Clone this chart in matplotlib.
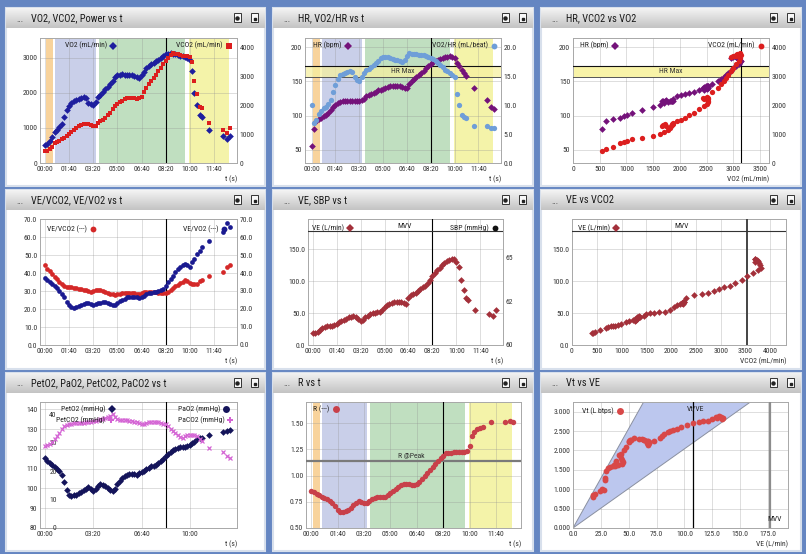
import numpy as np
import matplotlib.pyplot as plt
from matplotlib import font_manager
from matplotlib.patches import Rectangle
from matplotlib.colors import LinearSegmentedColormap
from matplotlib.ticker import FormatStrFormatter

# narrow font if there is one
have = {f.name for f in font_manager.fontManager.ttflist}
base = 'DejaVu Sans'
for cand in ['Liberation Sans Narrow', 'DejaVu Sans Condensed', 'Roboto Condensed', 'Liberation Sans']:
    if cand in have:
        base = cand
        break
plt.rcParams['font.family'] = [base, 'DejaVu Sans']

# ---- data (time in s) ----
t = list(range(0, 601, 10)) + [610, 618, 630, 640, 650, 680, 736, 752, 764]

vo2 = [520, 540, 620, 750, 880, 950, 1020, 1100, 1300, 1500,
       1620, 1700, 1780, 1810, 1830, 1850, 1880, 1850, 1720, 1680,
       1670, 1750, 1880, 1950, 2030, 2100, 2170, 2260, 2350, 2460,
       2500, 2520, 2530, 2520, 2520, 2510, 2500, 2490, 2450, 2430,
       2500, 2600, 2720, 2770, 2820, 2860, 2900, 2950, 3000, 3050,
       3100, 3120, 3140, 3120, 3100, 3080, 3060, 3050, 3040, 3000,
       2950,
       2620, 2000, 1650, 1380, 1300, 950, 780, 680, 760]

vco2 = [400, 420, 470, 560, 680, 730, 780, 820, 870, 930,
        990, 1080, 1150, 1220, 1270, 1310, 1350, 1360, 1340, 1320,
        1280, 1290, 1380, 1450, 1500, 1570, 1650, 1750, 1870, 1980,
        2050, 2110, 2170, 2220, 2240, 2250, 2250, 2240, 2220, 2240,
        2300, 2450, 2620, 2740, 2860, 2960, 3070, 3180, 3290, 3420,
        3530, 3650, 3760, 3820, 3800, 3780, 3760, 3730, 3700, 3700,
        3690,
        3520, 2830, 2400, 1950, 1900, 1390, 1160, 1040, 1210]

hr = [55, 80, 92, 95, 97, 99, 101, 104, 108, 112,
      116, 118, 120, 121, 121, 121, 122, 121, 121, 121,
      122, 123, 125, 128, 130, 131, 133, 135, 137, 138,
      139, 140, 142, 143, 143, 144, 144, 143, 142, 141,
      140, 146, 150, 153, 156, 159, 162, 166, 169, 172,
      175, 178, 180, 182, 183, 185, 186, 186, 187, 186,
      185,
      177, 172, 167, 163, 158, 140, 123, 112, 110]

vo2_hr = [10.0, 7.0, 7.5, 8.5, 9.0, 9.5, 9.8, 10.2, 11.0, 12.3,
          13.5, 14.5, 15.2, 15.4, 15.6, 15.8, 15.9, 15.8, 14.9, 14.4,
          14.2, 14.9, 15.6, 16.1, 16.4, 16.7, 17.0, 17.3, 17.7, 18.2,
          18.4, 18.4, 18.4, 18.3, 18.1, 17.9, 17.8, 17.7, 17.6, 17.9,
          18.5, 19.1, 19.0, 19.0, 18.9, 18.8, 18.7, 18.7, 18.5, 18.4,
          18.2, 18.0, 17.7, 17.3, 17.0, 16.6, 16.2, 16.0, 15.6, 15.3,
          15.0,
          11.9, 10.0, 8.3, 8.0, 7.8, 6.5, 6.4, 6.1, 6.0]

ve_vco2 = [44.5, 42.0, 41.0, 39.5, 38.0, 36.5, 35.0, 34.0, 33.0, 32.2,
           32.0, 32.0, 31.8, 31.5, 31.2, 31.0, 30.8, 30.3, 29.8, 29.6,
           30.2, 30.6, 30.8, 30.4, 30.0, 29.5, 29.0, 28.6, 28.2, 27.8,
           28.2, 28.6, 28.8, 28.9, 28.9, 28.9, 28.9, 28.8, 28.6, 28.5,
           28.8, 29.3, 29.5, 29.5, 29.5, 29.4, 29.2, 29.0, 28.9, 28.9,
           29.0, 29.6, 30.6, 31.6, 32.6, 33.5, 34.4, 35.2, 35.9, 35.5,
           34.5,
           34.0, 34.0, 34.0, 35.5, 36.3, 38.1, 40.5, 43.5, 44.6]

ve_vo2 = [37.2, 36.0, 35.0, 34.0, 33.0, 31.5, 30.0, 28.5, 26.5, 24.0,
          22.0, 21.0, 20.8, 21.2, 21.8, 22.4, 22.8, 23.2, 23.4, 22.8,
          22.2, 22.6, 23.3, 23.6, 23.9, 23.8, 23.4, 23.0, 22.4, 22.2,
          23.3, 24.2, 25.0, 25.8, 26.4, 26.7, 26.7, 26.7, 26.5, 26.3,
          26.5, 27.3, 28.2, 28.7, 29.1, 29.4, 29.6, 30.0, 30.3, 31.3,
          33.0, 34.8, 36.5, 38.5, 40.3, 42.0, 43.5, 44.5, 45.1, 44.3,
          43.6,
          46.0, 48.0, 50.5, 52.0, 54.5, 58.0, 62.6, 67.6, 65.4]

ve = [18, 18, 20, 24, 26, 28, 29, 29, 30, 31,
      33, 36, 37, 39, 41, 43, 44, 45, 44, 40,
      38, 39, 43, 46, 48, 50, 50, 51, 52, 55,
      59, 62, 64, 66, 67, 68, 68, 67, 66, 64,
      73, 78, 80, 82, 85, 87, 90, 93, 97, 102,
      108, 113, 117, 121, 125, 128, 131, 133, 135, 134,
      129,
      122, 102, 86, 74, 70, 54, 49, 46, 55]

peto2 = [115.5, 114.0, 112.8, 111.8, 111.0, 110.0, 109.0, 107.0, 103.5, 99.0,
         96.8, 96.4, 96.6, 96.9, 97.5, 98.1, 99.0, 99.8, 100.8, 99.5,
         98.6, 99.8, 101.0, 102.0, 101.8, 101.3, 100.3, 99.4, 98.6, 99.8,
         102.0, 104.0, 105.3, 106.2, 107.0, 107.3, 107.5, 107.2, 107.0, 107.6,
         108.2, 109.0, 109.6, 110.5, 111.3, 111.5, 111.7, 112.8, 113.8, 115.0,
         116.3, 117.5, 118.3, 119.2, 119.7, 120.3, 120.9, 120.9, 120.9, 121.5,
         122.2,
         122.8, 123.4, 124.8, 125.6, 125.6, 126.8, 128.5, 129.0, 129.5]

petco2 = [28.8, 29.2, 29.6, 30.4, 31.4, 32.4, 33.5, 34.8, 35.8, 36.4,
          36.7, 36.8, 37.0, 37.1, 37.1, 37.1, 37.1, 37.2, 37.4, 37.5,
          37.6, 37.8, 38.1, 38.3, 38.5, 38.8, 39.2, 39.6, 40.0, 39.2,
          38.5, 38.2, 38.2, 38.1, 38.0, 37.8, 37.6, 37.5, 37.3, 37.0,
          36.6, 36.5, 36.9, 37.2, 37.5, 37.5, 37.4, 37.2, 37.0, 36.8,
          36.5, 35.8, 35.0, 34.3, 33.5, 32.8, 32.0, 31.8, 32.5, 32.9,
          32.9,
          32.9, 32.6, 32.4, 31.2, 30.5, 28.2, 26.7, 25.5, 24.7]

rer = [0.85, 0.84, 0.82, 0.81, 0.80, 0.79, 0.78, 0.76, 0.74, 0.71,
       0.67, 0.65, 0.65, 0.66, 0.675, 0.695, 0.72, 0.735, 0.755, 0.75,
       0.74, 0.735, 0.755, 0.775, 0.79, 0.795, 0.795, 0.795, 0.795, 0.81,
       0.83, 0.85, 0.87, 0.89, 0.905, 0.915, 0.915, 0.915, 0.91, 0.906,
       0.915, 0.94, 0.97, 0.995, 1.02, 1.053, 1.085, 1.11, 1.14, 1.165,
       1.187, 1.21, 1.215, 1.219, 1.222, 1.225, 1.225, 1.225, 1.225, 1.235,
       1.28,
       1.38, 1.41, 1.44, 1.455, 1.465, 1.505, 1.51, 1.515, 1.51]

# tidal volume, exercise part only (first 61 samples)
vt = [0.80, 0.85, 0.88, 0.96, 1.00, 0.98, 1.25, 1.30, 1.48, 1.55,
      1.58, 1.60, 1.62, 1.70, 1.88, 1.80, 1.75, 1.70, 1.65, 1.62,
      1.60, 1.72, 1.90, 2.00, 2.10, 2.22, 2.25, 2.26, 2.28, 2.32,
      2.30, 2.30, 2.26, 2.20, 2.15, 2.18, 2.22, 2.25, 2.24, 2.28,
      2.25, 2.33, 2.37, 2.42, 2.47, 2.50, 2.52, 2.56, 2.60, 2.66,
      2.71, 2.73, 2.75, 2.76, 2.82, 2.87, 2.89, 2.86, 2.84, 2.82,
      2.85]

tpos = [0, 100, 200, 300, 400, 500, 600, 700]
tlab = ['00:00', '01:40', '03:20', '05:00', '06:40', '08:20', '10:00', '11:40']
phases = [(6, 33), (42, 211), (223, 581), (596, 760)]
phase_cols = ['#f8d39c', '#c9cfe9', '#c0dfc0', '#f4f3a9']
t_mark = 500
hr_max = (156.5, 173)
mvv = 178
r_peak = 1.14

FS = 5.5
W, H = 806, 554
fig = plt.figure(figsize=(W / 100, H / 100), dpi=100)
fig.patch.set_facecolor('#6586c2')


def rect(x0, y0, x1, y1):
    return [x0 / W, 1 - y1 / H, (x1 - x0) / W, (y1 - y0) / H]


grad_cm = LinearSegmentedColormap.from_list('tb', ['#f3f3f3', '#c4c4c4'])
cols = [(6, 265), (273, 533), (541, 801)]
rows = [(8, 186), (190, 369), (373, 551)]
titles = ['VO2, VCO2, Power vs t', 'HR, VO2/HR vs t', 'HR, VCO2 vs VO2',
          'VE/VCO2, VE/VO2 vs t', 'VE, SBP vs t', 'VE vs VCO2',
          'PetO2, PaO2, PetCO2, PaCO2 vs t', 'R vs t', 'Vt vs VE']
k = 0
for (y0, y1) in rows:
    for (x0, x1) in cols:
        l, b, w, h = rect(x0, y0, x1, y1)
        fig.add_artist(Rectangle((l, b), w, h, transform=fig.transFigure,
                                 fc='white', ec='#d8e0ec', lw=1.5, zorder=-5))
        tb = fig.add_axes(rect(x0, y0, x1, y0 + 20))
        tb.imshow(np.linspace(0, 1, 20).reshape(-1, 1), aspect='auto', cmap=grad_cm,
                  extent=(0, 1, 0, 1))
        tb.set_xlim(0, 1)
        tb.set_ylim(0, 1)
        tb.axis('off')
        tb.text(0.04, 0.45, '...', fontsize=6.5, color='#333', va='center')
        tb.text(0.095, 0.5, titles[k], fontsize=7.5, color='#1a1a1a', va='center')
        for cx in [0.893, 0.96]:
            tb.add_patch(Rectangle((cx - 0.014, 0.28), 0.028, 0.45, fc='#f8f8f8',
                                   ec='#333', lw=0.7))
        tb.plot(0.893, 0.52, 'o', ms=2.2, color='#222')
        tb.plot(0.963, 0.45, 's', ms=1.8, color='#222')
        k += 1


def make_ax(x0, y0, x1, y1):
    ax = fig.add_axes(rect(x0, y0, x1, y1))
    ax.set_facecolor('white')
    for s in ax.spines.values():
        s.set_color('#a8a8a8')
        s.set_linewidth(0.7)
    ax.tick_params(length=0, labelsize=FS, colors='#333333', pad=2)
    ax.grid(True, color='#909090', alpha=0.35, lw=0.6)
    ax.set_axisbelow(True)
    return ax


def twin(ax):
    tw = ax.twinx()
    for s in tw.spines.values():
        s.set_visible(False)
    tw.tick_params(length=0, labelsize=FS, colors='#333333', pad=2)
    return tw


def time_axis(ax, pos=tpos, lab=tlab, lo=-20):
    ax.set_xlim(lo, 795)
    ax.set_xticks(pos)
    ax.set_xticklabels(lab)
    ax.text(1.0, -0.1, 't (s)', transform=ax.transAxes, ha='right', va='top',
            fontsize=FS, color='#333')


def bands(ax):
    for (a, b), c in zip(phases, phase_cols):
        ax.axvspan(a, b, color=c, lw=0, zorder=0.2)


def leg(ax, mx, y, label, marker, color, ms=4.2):
    ax.text(mx - 0.03, y, label, transform=ax.transAxes, ha='right', va='center',
            fontsize=FS, color='#222', zorder=10)
    ax.plot([mx], [y], marker=marker, color=color, ms=ms, mew=0,
            transform=ax.transAxes, clip_on=False, zorder=10)


C_VO2 = '#1e1e9e'
C_VCO2 = '#dc1e1e'
C_HR = '#74127a'
C_O2P = '#6f9ed8'
C_VE = '#a3303a'
MS = 3.4

# 1 VO2, VCO2 vs t
ax = make_ax(40, 38, 237, 163)
bands(ax)
ax.axvline(t_mark, color='black', lw=0.8, zorder=3)
ax.set_ylim(0, 3570)
ax.set_yticks([0, 1000, 2000, 3000])
ax.plot(t, vo2, 'D', color=C_VO2, ms=MS, mew=0, zorder=4)
time_axis(ax)
tw = twin(ax)
tw.set_ylim(0, 4340)
tw.set_yticks([0, 1000, 2000, 3000, 4000])
tw.plot(t, vco2, 's', color=C_VCO2, ms=3.1, mew=0)
leg(tw, 0.373, 0.94, 'VO2 (mL/min)', 'D', C_VO2)
leg(tw, 0.958, 0.94, 'VCO2 (mL/min)', 's', C_VCO2)

# 2 HR, VO2/HR vs t
ax = make_ax(305, 38, 501, 163)
bands(ax)
ax.axhspan(*hr_max, color='#f6f0a0', alpha=0.75, lw=0, zorder=0.6)
ax.axhline(hr_max[1], color='#111', lw=0.8, zorder=3)
ax.axhline(hr_max[0], color='#555', lw=0.7, zorder=3)
ax.text(0.5, sum(hr_max) / 2, 'HR Max', transform=ax.get_yaxis_transform(), ha='center',
        va='center', fontsize=FS, color='#333', zorder=3)
ax.axvline(t_mark, color='black', lw=0.8, zorder=3)
ax.set_ylim(30.5, 213.7)
ax.set_yticks([50, 100, 150, 200])
ax.plot(t, hr, 'D', color=C_HR, ms=MS, mew=0, zorder=4)
time_axis(ax, lo=-28)
tw = twin(ax)
tw.set_ylim(0, 21.7)
tw.set_yticks([0, 5, 10, 15, 20])
tw.yaxis.set_major_formatter(FormatStrFormatter('%.1f'))
tw.plot(t, vo2_hr, 'o', color=C_O2P, ms=3.8, mew=0)
leg(tw, 0.217, 0.94, 'HR (bpm)', 'D', C_HR)
leg(tw, 0.966, 0.94, 'VO2/HR (mL/beat)', 'o', C_O2P)

# 3 HR, VCO2 vs VO2
ax = make_ax(573, 38, 769, 163)
ax.axhspan(*hr_max, color='#f8f3a8', lw=0, zorder=0.6)
ax.axhline(hr_max[1], color='#111', lw=0.8, zorder=3)
ax.axhline(hr_max[0], color='#555', lw=0.7, zorder=3)
ax.text(0.5, sum(hr_max) / 2, 'HR Max', transform=ax.get_yaxis_transform(), ha='center',
        va='center', fontsize=FS, color='#333', zorder=3)
ax.axvline(3150, color='black', lw=0.8, zorder=3)
ax.set_xlim(0, 3670)
ax.set_xticks(range(0, 3501, 500))
ax.set_ylim(30.5, 213.7)
ax.set_yticks([50, 100, 150, 200])
ax.plot(vo2[1:61], hr[1:61], 'D', color=C_HR, ms=MS, mew=0, zorder=4)
ax.text(1.0, -0.1, 'VO2 (mL/min)', transform=ax.transAxes, ha='right', va='top',
        fontsize=FS, color='#333')
tw = twin(ax)
tw.set_ylim(0, 4340)
tw.set_yticks([0, 1000, 2000, 3000, 4000])
tw.plot(vo2[1:61], vco2[1:61], 'o', color=C_VCO2, ms=3.8, mew=0)
leg(tw, 0.212, 0.94, 'HR (bpm)', 'D', C_HR)
leg(tw, 0.958, 0.94, 'VCO2 (mL/min)', 'o', C_VCO2)

# 4 VE/VCO2, VE/VO2 vs t
ax = make_ax(40, 219, 237, 345)
ax.axvline(t_mark, color='black', lw=0.8, zorder=3)
ax.set_ylim(0, 70)
ax.set_yticks(range(0, 71, 10))
ax.yaxis.set_major_formatter(FormatStrFormatter('%.1f'))
ax.plot(t, ve_vco2, 'o', color='#d42828', ms=3.4, mew=0, zorder=4)
time_axis(ax)
tw = twin(ax)
tw.set_ylim(0, 70)
tw.set_yticks(range(0, 71, 10))
tw.yaxis.set_major_formatter(FormatStrFormatter('%.1f'))
tw.plot(t, ve_vo2, 'o', color='#1a1a90', ms=3.4, mew=0)
leg(tw, 0.268, 0.92, 'VE/VCO2 (---)', 'o', '#d42828')
leg(tw, 0.936, 0.92, 'VE/VO2 (---)', 'o', '#1a1a90')

# 5 VE, SBP vs t
ax = make_ax(308, 219, 503, 345)
ax.axvline(t_mark, color='black', lw=0.8, zorder=3)
ax.axhline(mvv, color='#333', lw=0.8, zorder=3)
ax.text(0.496, mvv + 3, 'MVV', transform=ax.get_yaxis_transform(), ha='center',
        va='bottom', fontsize=FS, color='#222')
ax.set_ylim(0, 197)
ax.set_yticks([0, 50, 100, 150])
ax.yaxis.set_major_formatter(FormatStrFormatter('%.1f'))
ax.plot(t, ve, 'D', color=C_VE, ms=MS, mew=0, zorder=4)
time_axis(ax)
tw = twin(ax)
tw.set_ylim(60, 67.24)
tw.set_yticks([60, 62.5, 65])
tw.set_yticklabels(['60', '62', '65'])
leg(tw, 0.214, 0.93, 'VE (L/min)', 'D', C_VE)
leg(tw, 0.957, 0.93, 'SBP (mmHg)', 'o', '#111')

# 6 VE vs VCO2
ax = make_ax(572, 219, 786, 345)
ax.axvline(3520, color='#444', lw=1.4, zorder=3)
ax.axhline(mvv, color='#333', lw=0.8, zorder=3)
ax.text(0.51, mvv + 3, 'MVV', transform=ax.get_yaxis_transform(), ha='center',
        va='bottom', fontsize=FS, color='#222')
ax.set_xlim(0, 4315)
ax.set_xticks(range(0, 4001, 500))
ax.set_ylim(0, 197)
ax.set_yticks([0, 50, 100, 150])
ax.yaxis.set_major_formatter(FormatStrFormatter('%.1f'))
ax.plot(vco2[:61], ve[:61], 'D', color=C_VE, ms=MS, mew=0, zorder=4)
ax.text(1.0, -0.1, 'VCO2 (mL/min)', transform=ax.transAxes, ha='right', va='top',
        fontsize=FS, color='#333')
leg(ax, 0.206, 0.93, 'VE (L/min)', 'D', C_VE)

# 7 PetO2, PetCO2 vs t
ax = make_ax(40, 402, 237, 528)
ax.axvline(t_mark, color='black', lw=0.8, zorder=3)
ax.set_ylim(80, 143.7)
ax.set_yticks(range(80, 141, 10))
ax.plot(t, peto2, 'D', color='#14145a', ms=MS, mew=0, zorder=4)
time_axis(ax, pos=[0, 200, 400, 600], lab=['00:00', '03:20', '06:40', '10:00'])
tw = ax.twinx()
for s in tw.spines.values():
    s.set_visible(False)
tw.yaxis.tick_left()
tw.tick_params(axis='y', length=0, labelsize=FS, colors='#333333', pad=-12)
tw.set_ylim(0, 44.4)
tw.set_yticks([0, 10, 20, 30, 40])
tw.plot(t, petco2, 'x', color='#d464d4', ms=3.2, mew=0.9)
leg(tw, 0.364, 0.942, 'PetO2 (mmHg)', 'D', '#14145a')
leg(tw, 0.36, 0.854, 'PetCO2 (mmHg)', 'P', '#d464d4')
leg(tw, 0.946, 0.942, 'PaO2 (mmHg)', 'o', '#14145a', ms=5)
leg(tw, 0.966, 0.854, 'PaCO2 (mmHg)', 'P', '#d464d4', ms=5)

# 8 R vs t
ax = make_ax(306, 402, 521, 528)
bands(ax)
ax.axvline(t_mark, color='black', lw=0.8, zorder=3)
ax.axhline(r_peak, color='#7a7a7a', lw=1.6, zorder=3)
ax.text(0.49, r_peak + 0.02, 'R @Peak', transform=ax.get_yaxis_transform(), ha='center',
        va='bottom', fontsize=FS, color='#333', zorder=3)
ax.set_ylim(0.5, 1.70)
ax.set_yticks([0.5, 0.75, 1.0, 1.25, 1.5])
ax.yaxis.set_major_formatter(FormatStrFormatter('%.2f'))
ax.plot(t, rer, 'o', color='#c8404a', ms=3.9, mew=0, zorder=4)
time_axis(ax)
leg(ax, 0.14, 0.942, 'R (---)', 'o', '#c8404a', ms=5)

# 9 Vt vs VE
ax = make_ax(573, 402, 788, 528)
ax.set_xlim(0, 193)
ax.set_ylim(0, 3.25)
f_hi, f_lo = 19.5, 49
ve_line = np.array([0, 3.25 * f_hi, 3.25 * f_lo])
ax.fill(ve_line, [0, 3.25, 3.25], fc='#bcc7ee', ec='#8a90a0', lw=0.7, zorder=0.7)
ax.axvline(107.5, color='black', lw=0.9, zorder=3)
ax.text(110, 3.0, 'Vt/VE', fontsize=FS, color='#222', ha='center', va='bottom', zorder=3)
ax.axvline(177, color='#8c8c8c', lw=1.6, zorder=3)
ax.text(0.97, 0.05, 'MVV', transform=ax.transAxes, ha='right', va='bottom',
        fontsize=FS, color='#222')
ax.set_xticks(range(0, 176, 25))
ax.xaxis.set_major_formatter(FormatStrFormatter('%.1f'))
ax.set_yticks([0, 0.5, 1, 1.5, 2, 2.5, 3])
ax.yaxis.set_major_formatter(FormatStrFormatter('%.3f'))
ax.plot(ve[:61], vt, 'o', color='#d84848', ms=4.2, mew=0, zorder=4)
ax.text(1.0, -0.1, 'VE (L/min)', transform=ax.transAxes, ha='right', va='top',
        fontsize=FS, color='#333')
leg(ax, 0.22, 0.93, 'Vt (L btps)', 'o', '#d84848', ms=5)

fig.savefig('out.png', dpi=100, facecolor=fig.get_facecolor())
